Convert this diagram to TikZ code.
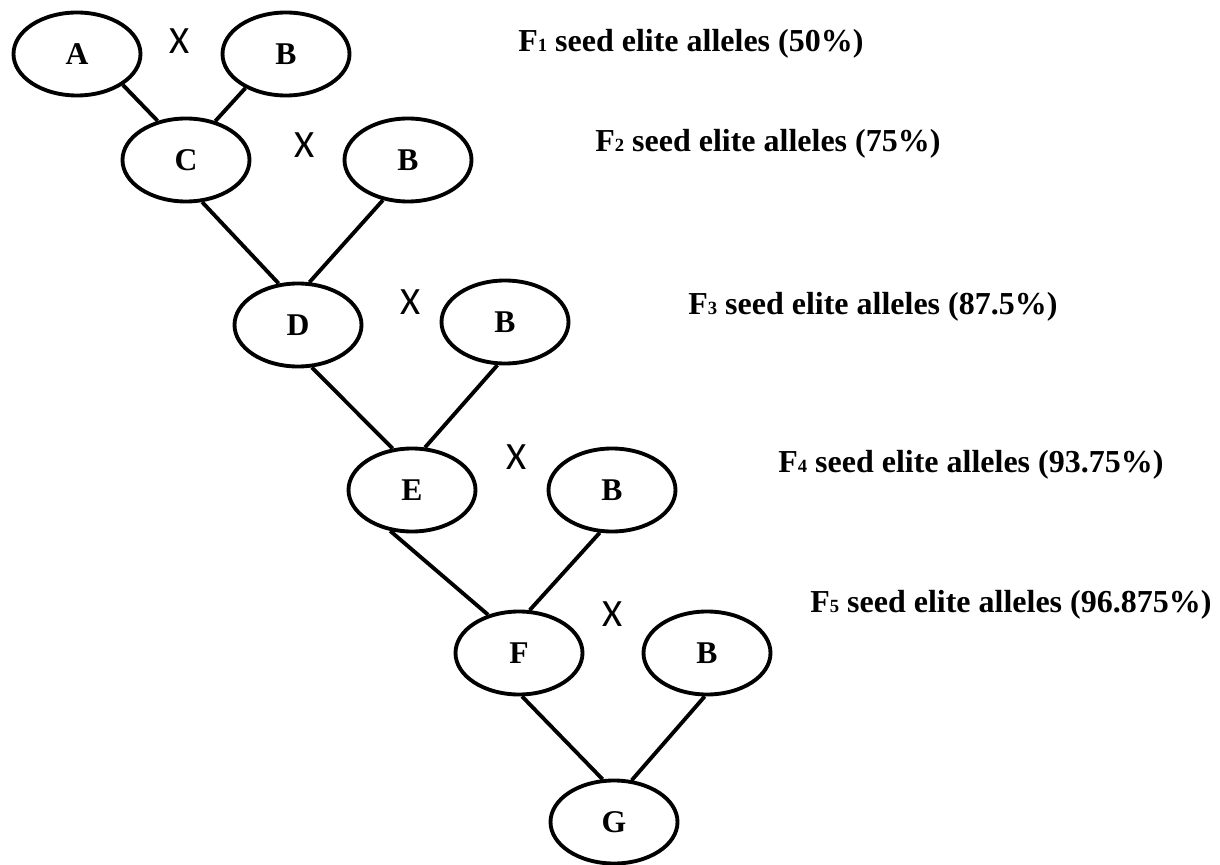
\documentclass[tikz,border=0pt]{standalone}
\usepackage{fontspec}
\setmainfont{Liberation Serif}
\newfontfamily\crossfont{Carlito}
\usepackage{tikz}
\usetikzlibrary{shapes.geometric}
\newcommand{\fgen}[1]{F{\fontsize{10.6}{11}\selectfont #1}}

\begin{document}
\begin{tikzpicture}[
  parent/.style={draw, ellipse, line width=2.2pt, minimum width=2.54cm, minimum height=1.66cm, inner sep=0pt, font=\fontsize{18}{18}\selectfont\bfseries},
  cross/.style={inner sep=0pt, font=\crossfont\fontsize{22}{22}\selectfont},
  gentext/.style={anchor=base west, inner sep=0pt, font=\fontsize{18.2}{20}\selectfont\bfseries},
  link/.style={line width=2.2pt},
]
  \useasboundingbox (0,0) rectangle (24.4,-17.3);

  \node[parent] (a) at (1.54, -1.08) {A};
  \node[parent] (b1) at (5.72, -1.08) {B};
  \node[cross] (x1) at (3.60, -0.82) {X};

  \node[parent] (c) at (3.72, -3.20) {C};
  \node[parent] (b2) at (8.16, -3.20) {B};
  \node[cross] (x2) at (6.10, -2.90) {X};

  \node[parent] (d) at (5.96, -6.50) {D};
  \node[parent] (b3) at (10.10, -6.44) {B};
  \node[cross] (x3) at (8.22, -6.04) {X};

  \node[parent] (e) at (8.24, -9.80) {E};
  \node[parent] (b4) at (12.24, -9.80) {B};
  \node[cross] (x4) at (10.34, -9.14) {X};

  \node[parent] (f) at (10.38, -13.06) {F};
  \node[parent] (b5) at (14.14, -13.06) {B};
  \node[cross] (x5) at (12.26, -12.28) {X};

  \node[parent] (g) at (12.28, -16.44) {G};

  \draw[link] (a.-34) -- (c.126);
  \draw[link] (b1.-140) -- (c.53);
  \draw[link] (c.-69) -- (d.115);
  \draw[link] (b2.-122) -- (d.75);
  \draw[link] (d.-72) -- (e.115);
  \draw[link] (b3.-100) -- (e.73);
  \draw[link] (e.-118) -- (f.129);
  \draw[link] (b4.-106) -- (f.76);
  \draw[link] (f.-86) -- (g.105);
  \draw[link] (b5.-93) -- (g.67);

  \node[gentext] (g1) at (10.36, -1.04) {\fgen{1} seed elite alleles (50\%)};
  \node[gentext] (g2) at (11.90, -3.04) {\fgen{2} seed elite alleles (75\%)};
  \node[gentext] (g3) at (13.76, -6.30) {\fgen{3} seed elite alleles (87.5\%)};
  \node[gentext] (g4) at (15.56, -9.44) {\fgen{4} seed elite alleles (93.75\%)};
  \node[gentext] (g5) at (16.20, -12.24) {\fgen{5} seed elite alleles (96.875\%)};

\end{tikzpicture}
\end{document}
